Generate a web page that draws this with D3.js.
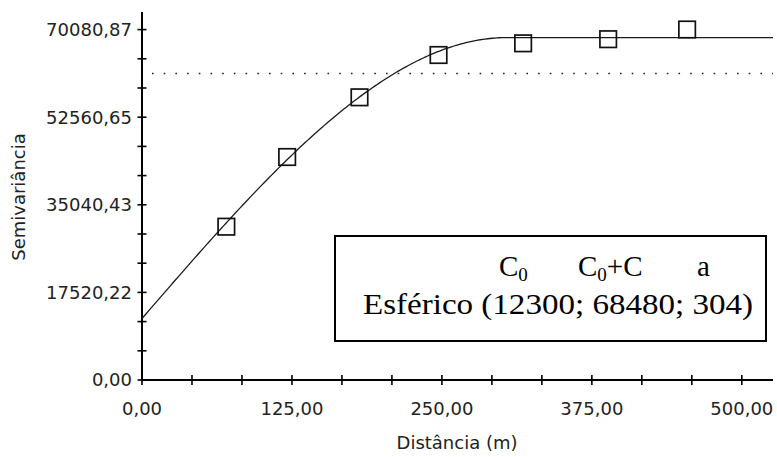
<!DOCTYPE html>
<html>
<head>
<meta charset="utf-8">
<script src="https://cdn.jsdelivr.net/npm/d3@7"></script>
<style>
  html, body { margin: 0; padding: 0; background: #fff; }
  svg { display: block; }
  .tick-label { font-family: "DejaVu Sans", sans-serif; font-size: 18px; fill: #222; }
  .axis-title { font-family: "DejaVu Sans", sans-serif; font-size: 18px; fill: #222; }
  .box-text { font-family: "Liberation Serif", "Times New Roman", serif; font-size: 29px; fill: #000; }
</style>
</head>
<body>
<svg id="chart" width="777" height="457"></svg>
<script>
// Experimental semivariogram: lag distance (m) and semivariance
const lagDistance = [70.3, 121, 181.3, 247.2, 317.7, 388.6, 454.4];
const semivariance = [30660, 44600, 56540, 65000, 67340, 68160, 70100];

// Spherical model parameters: nugget C0, sill C0+C, range a
const modelName = "Esférico";
const nugget = 12300;
const sill = 68480;
const range = 304;

// Sample variance (dotted reference line)
const sampleVariance = 61300;

// Axis tick labels
const yTickValues = [0, 17520.22, 35040.43, 52560.65, 70080.87];
const yTickLabels = ["0,00", "17520,22", "35040,43", "52560,65", "70080,87"];
const xTickValues = [0, 125, 250, 375, 500];
const xTickLabels = ["0,00", "125,00", "250,00", "375,00", "500,00"];

const svg = d3.select("#chart");

const x = d3.scaleLinear().domain([0, 526]).range([142, 773]);
const y = d3.scaleLinear().domain([0, 73600]).range([380, 12]);

// Minor ticks: three subdivisions between labelled ticks
const yMinor = d3.range(0, 12.5).map(i => i * yTickValues[1] / 3);
const xMinor = d3.range(0, 12.5).map(i => i * xTickValues[1] / 3);

// Axis lines
svg.append("line")
  .attr("x1", x(0)).attr("x2", x(0))
  .attr("y1", y.range()[1]).attr("y2", y(0))
  .attr("stroke", "#000").attr("stroke-width", 2);
svg.append("line")
  .attr("x1", x(0)).attr("x2", x.range()[1])
  .attr("y1", y(0)).attr("y2", y(0))
  .attr("stroke", "#000").attr("stroke-width", 2);

// Tick marks crossing the axes
svg.append("g").selectAll("line").data(yMinor).join("line")
  .attr("x1", x(0) - 4.5).attr("x2", x(0) + 4.5)
  .attr("y1", d => y(d)).attr("y2", d => y(d))
  .attr("stroke", "#000").attr("stroke-width", 1.6);
svg.append("g").selectAll("line").data(xMinor).join("line")
  .attr("x1", d => x(d)).attr("x2", d => x(d))
  .attr("y1", y(0) - 5).attr("y2", y(0) + 5)
  .attr("stroke", "#000").attr("stroke-width", 1.6);

// Tick labels
svg.append("g").selectAll("text").data(yTickValues).join("text")
  .attr("class", "tick-label")
  .attr("x", x(0) - 10)
  .attr("y", d => y(d))
  .attr("dy", "0.36em")
  .attr("text-anchor", "end")
  .text((d, i) => yTickLabels[i]);
svg.append("g").selectAll("text").data(xTickValues).join("text")
  .attr("class", "tick-label")
  .attr("x", d => x(d))
  .attr("y", 415)
  .attr("text-anchor", "middle")
  .text((d, i) => xTickLabels[i]);

// Axis titles
svg.append("text")
  .attr("class", "axis-title")
  .attr("x", 457).attr("y", 449)
  .attr("text-anchor", "middle")
  .text("Distância (m)");
svg.append("text")
  .attr("class", "axis-title")
  .attr("transform", "translate(25,197) rotate(-90)")
  .attr("text-anchor", "middle")
  .text("Semivariância");

// Sample variance line
svg.append("line")
  .attr("x1", x(0) + 10).attr("x2", x.range()[1])
  .attr("y1", y(sampleVariance)).attr("y2", y(sampleVariance))
  .attr("stroke", "#222").attr("stroke-width", 1.6)
  .attr("stroke-dasharray", "1.6,10.1");

// Spherical model curve
function spherical(h) {
  if (h >= range) return sill;
  const r = h / range;
  return nugget + (sill - nugget) * (1.5 * r - 0.5 * r * r * r);
}
const hs = d3.range(0, 526.01, 2);
svg.append("path")
  .datum(hs)
  .attr("fill", "none")
  .attr("stroke", "#1a1a1a")
  .attr("stroke-width", 1.3)
  .attr("d", d3.line().x(h => x(h)).y(h => y(spherical(h))));

// Experimental points
const sq = 16.5;
svg.append("g").selectAll("rect").data(lagDistance).join("rect")
  .attr("x", d => x(d) - sq / 2)
  .attr("y", (d, i) => y(semivariance[i]) - sq / 2)
  .attr("width", sq).attr("height", sq)
  .attr("fill", "none")
  .attr("stroke", "#111").attr("stroke-width", 1.7);

// Model parameter box
svg.append("rect")
  .attr("x", 335).attr("y", 236)
  .attr("width", 431).attr("height", 105)
  .attr("fill", "#fff")
  .attr("stroke", "#000").attr("stroke-width", 2);

const head = svg.append("text").attr("class", "box-text").attr("y", 276);
function cSub(t, xpos, suffix) {
  const el = svg.append("text").attr("class", "box-text").attr("x", xpos).attr("y", 276);
  el.append("tspan").text("C");
  el.append("tspan").attr("dy", 5).attr("font-size", "19px").text("0");
  if (suffix) el.append("tspan").attr("dy", -5).text(suffix);
}
cSub("C", 499, null);
cSub("C", 578, "+C");
svg.append("text").attr("class", "box-text").attr("x", 697).attr("y", 276).text("a");

svg.append("text")
  .attr("class", "box-text")
  .attr("x", 363).attr("y", 314)
  .attr("textLength", 390)
  .attr("lengthAdjust", "spacingAndGlyphs")
  .text(`${modelName} (${nugget}; ${sill}; ${range})`);
</script>
</body>
</html>
